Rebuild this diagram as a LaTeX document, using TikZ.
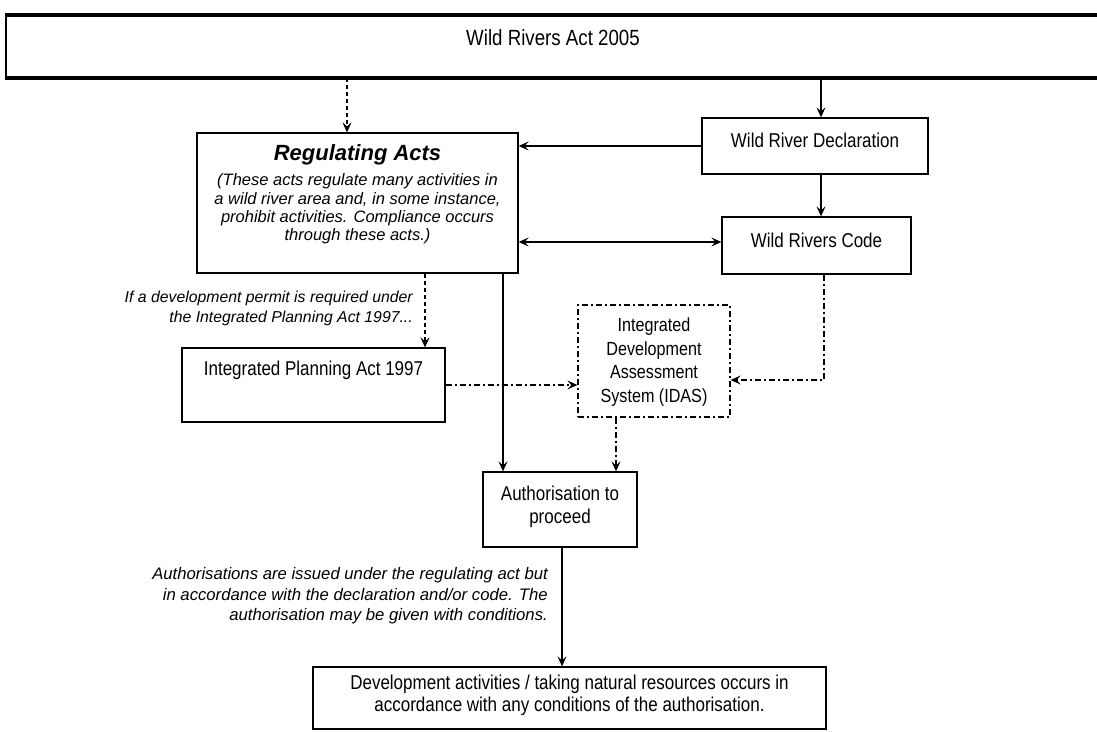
\documentclass[tikz,border=0pt]{standalone}
\usepackage{fontspec}
\setmainfont{Liberation Sans}[FakeStretch=0.85]
\newfontfamily\regfont{Liberation Sans}
\usetikzlibrary{arrows.meta,calc}
\begin{document}
\begin{tikzpicture}[x=1pt,y=-1pt,
  tip/.tip={Stealth[length=10pt,width=9pt,inset=4pt]},
  box/.style={draw, line width=1.3pt, inner sep=0pt},
  arr/.style={-tip, line width=1.3pt},
  dbl/.style={tip-tip, line width=1.3pt},
  dashd/.style={dash pattern=on 4pt off 3pt},
  dashdot/.style={dash pattern=on 6pt off 3pt on 2pt off 3pt},
  txt/.style={font=\fontsize{20}{22}\selectfont, align=center, inner sep=0pt},
  itx/.style={font=\regfont\fontsize{16.7}{20.5}\selectfont\itshape, inner sep=0pt}
]
\useasboundingbox (0,0) rectangle (1097,731);
\fill[white] (0,0) rectangle (1097,731);

% top box
\node[inner sep=0pt, minimum width=1100, minimum height=63, anchor=north west] (top) at (6,15) {};
\draw[line width=4pt] (top.north east) -- (top.north west);
\draw[line width=4pt] (top.south west) -- (top.south east);
\draw[line width=2.5pt] ([yshift=2pt]top.north west) -- ([yshift=-2pt]top.south west);
\node[txt, font=\fontsize{22}{24}\selectfont] (toptext) at (553,38) {Wild Rivers Act 2005};

% boxes
\node[box, minimum width=321, minimum height=140] (reg) at (357.5,203) {};
\node[inner sep=0pt, font=\regfont\fontsize{22}{25}\selectfont\bfseries\itshape] (regtitle) at (357.5,155) {Regulating Acts};
\node[itx, align=center, font=\regfont\fontsize{16.5}{18.2}\selectfont\itshape] (regbody) at (357.5,209) {(These acts regulate many activities in\\a wild river area and, in some instance,\\prohibit activities. Compliance occurs\\through these acts.)};

\node[box, minimum width=226, minimum height=56] (decl) at (815,146) {};
\node[txt] (decltext) at (815,140) {Wild River Declaration};

\node[box, minimum width=189, minimum height=57] (code) at (816.5,245.5) {};
\node[txt] (codetext) at (816.5,240) {Wild Rivers Code};

\node[box, dashdot, minimum width=152, minimum height=112] (idas) at (654,361) {};
\node[txt, font=\fontsize{19}{23.5}\selectfont] (idastext) at (654,362) {Integrated\\Development\\Assessment\\System (IDAS)};

\node[box, minimum width=263, minimum height=74] (ipa) at (313.5,385) {};
\node[txt] (ipatext) at (313.5,370) {Integrated Planning Act 1997};

\node[box, minimum width=154, minimum height=75] (auth) at (560,509.5) {};
\node[txt, font=\fontsize{20}{23}\selectfont] (authtext) at (560,506.5) {Authorisation to\\proceed};

\node[box, minimum width=513, minimum height=62] (dev) at (569.5,698) {};
\node[txt, font=\fontsize{20}{22}\selectfont] (devtext) at (569.5,695) {Development activities / taking natural resources occurs in\\accordance with any conditions of the authorisation.};

% free text
\node[itx, align=right, anchor=east, font=\regfont\fontsize{15.8}{20}\selectfont\itshape] (iftext) at (413,308) {If a development permit is required under\\the Integrated Planning Act 1997...};
\node[itx, align=right, anchor=east] (captext) at (548,596) {Authorisations are issued under the regulating act but\\in accordance with the declaration and/or code. The\\authorisation may be given with conditions.};

% helper x positions
\coordinate (xA) at (347,0);
\coordinate (xB) at (821,0);
\coordinate (xC) at (425,0);
\coordinate (xD) at (503,0);
\coordinate (xE) at (616,0);
\coordinate (xF) at (824,0);
\coordinate (xG) at (562,0);
\coordinate (yR) at (0,242);
\coordinate (yI) at (0,380);

% connectors
\draw[arr, dashd] (top.south -| xA) -- (reg.north -| xA);
\draw[arr] (top.south -| xB) -- (decl.north -| xB);
\draw[arr] (decl.west) -- (decl.west -| reg.east);
\draw[arr] (decl.south -| xB) -- (code.north -| xB);
\draw[dbl] (reg.east |- yR) -- (code.west |- yR);
\draw[arr, dashd] (reg.south -| xC) -- (ipa.north -| xC);
\draw[arr] (reg.south -| xD) -- (auth.north -| xD);
\draw[arr, dashdot] (ipa.east) -- (ipa.east -| idas.west);
\draw[arr, dashdot] (code.south -| xF) -- (xF |- yI) -- (idas.east |- yI);
\draw[arr, dashdot] (idas.south -| xE) -- (auth.north -| xE);
\draw[arr] (auth.south -| xG) -- (dev.north -| xG);
\end{tikzpicture}
\end{document}
